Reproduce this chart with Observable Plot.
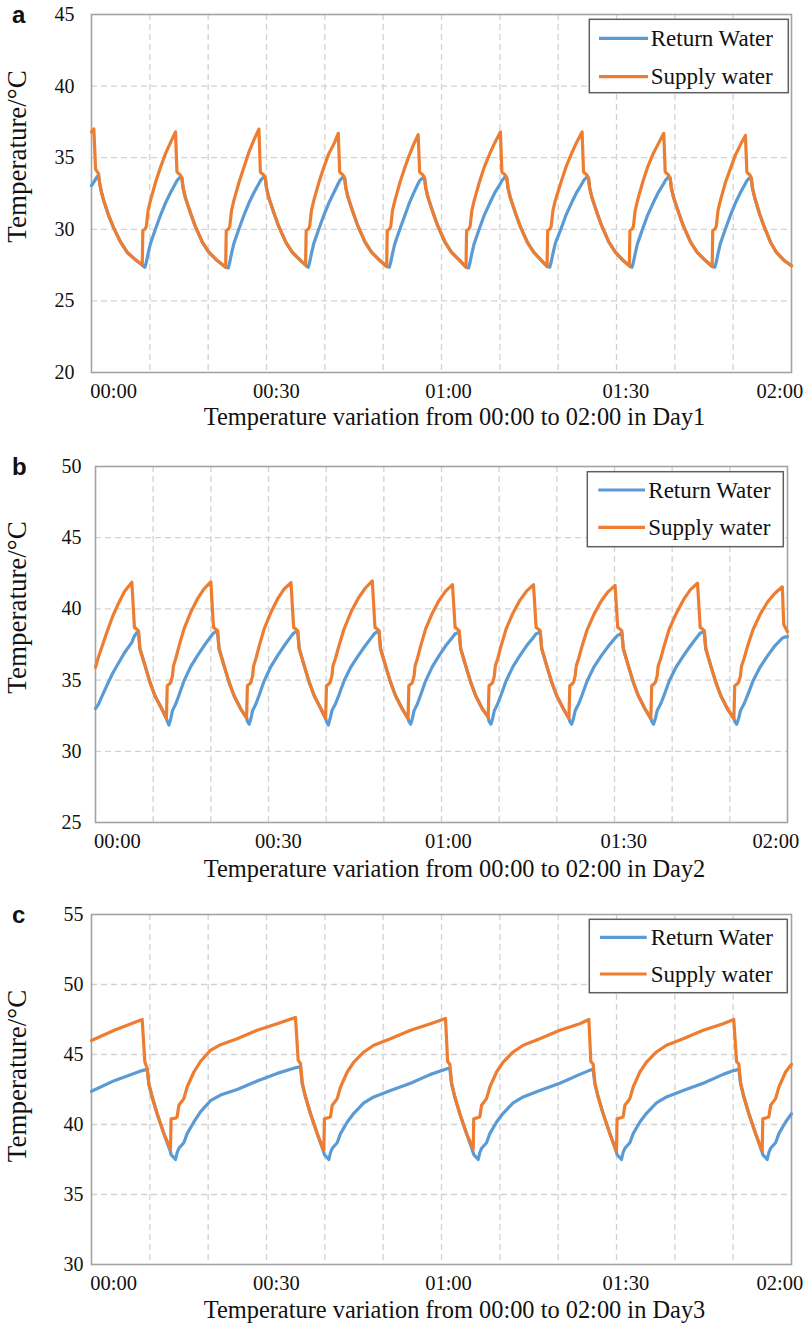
<!DOCTYPE html>
<html>
<head>
<meta charset="utf-8">
<script src="https://cdn.jsdelivr.net/npm/d3@7"></script>
<script src="https://cdn.jsdelivr.net/npm/@observablehq/plot@0.6"></script>
<style>
  body { margin: 0; background: #fff; }
  #page { position: relative; width: 809px; height: 1326px; overflow: hidden; background: #fff; }
  #page > svg { position: absolute; left: 0; }
  #page svg, #page svg g, #page svg text, #page svg tspan {
    font-family: "Liberation Serif", "Times New Roman", Times, serif !important;
    font-variant-numeric: normal !important;
  }
  #page svg text.letter { font-family: "Liberation Sans", Arial, sans-serif !important; }
</style>
</head>
<body>
<div id="page"></div>
<script>
// ---------- categories / labels ----------
const seriesNames = ["Return Water", "Supply water"];
const seriesColors = ["#5B9BD5", "#ED7D31"];
const xTickMinutes = [3.8, 31.7, 61.2, 91.6, 118];
const xTickLabels = ["00:00", "00:30", "01:00", "01:30", "02:00"];
const gridMinutes = [10, 20, 30, 40, 50, 60, 70, 80, 90, 100, 110];
const panelLetters = ["a", "b", "c"];
const xTitles = [
  "Temperature variation from 00:00 to 02:00 in Day1",
  "Temperature variation from 00:00 to 02:00 in Day2",
  "Temperature variation from 00:00 to 02:00 in Day3"
];
const yTitle = "Temperature/\u00B0C";
const yRanges = [[20, 45], [25, 50], [30, 55]];

// ---------- Day 1 (panel a) ----------
const dayOneMinutes = [
  0, 0.4, 0.7, 1.0, 1.2, 1.4, 1.7, 2.1, 3.0, 3.8, 5.0, 6.1, 7.6,
  8.7, 8.8, 9.15, 9.4, 9.7, 10.1, 11.0, 11.8, 12.7, 13.6, 14.4, 14.65, 15.2, 15.5, 15.7, 16.1, 17.0, 17.8, 19.0, 20.1, 21.6,
  23.0, 23.1, 23.45, 23.7, 24.0, 24.4, 25.3, 26.1, 27.0, 27.9, 28.7, 28.95, 29.5, 29.8, 30.0, 30.4, 31.3, 32.1, 33.3, 34.4, 35.9,
  36.7, 36.8, 37.15, 37.4, 37.7, 38.1, 39.0, 39.8, 40.7, 41.6, 42.3, 42.55, 43.1, 43.4, 43.6, 44.0, 44.9, 45.7, 46.9, 48.0, 49.5,
  50.6, 50.7, 51.05, 51.3, 51.6, 52.0, 52.9, 53.7, 54.5, 55.3, 56.0, 56.25, 56.8, 57.1, 57.3, 57.7, 58.6, 59.4, 60.6, 61.7, 63.2,
  64.2, 64.3, 64.65, 64.9, 65.2, 65.6, 66.5, 67.3, 68.3, 69.2, 70.1, 70.35, 70.9, 71.2, 71.4, 71.8, 72.7, 73.5, 74.7, 75.8, 77.2,
  78.1, 78.2, 78.55, 78.8, 79.1, 79.5, 80.5, 81.3, 82.3, 83.2, 84.1, 84.35, 84.9, 85.2, 85.4, 85.8, 86.7, 87.5, 88.7, 89.8, 91.2,
  92.2, 92.3, 92.65, 92.9, 93.2, 93.6, 94.5, 95.3, 96.3, 97.2, 98.1, 98.35, 98.9, 99.2, 99.4, 99.8, 100.7, 101.5, 102.7, 103.8, 105.3,
  106.4, 106.5, 106.85, 107.1, 107.4, 107.8, 108.7, 109.5, 110.4, 111.3, 112.1, 112.35, 112.85, 113.1, 113.3, 113.7, 114.5, 115.3, 116.4, 117.4, 118.8, 120
];
const dayOneSupply = [
  36.8, 37.0, 34.2, 34.0, 33.9, 33.2, 32.6, 32.0, 30.9, 30.1, 29.1, 28.4, 27.85,
  27.5, 29.9, 30.0, 30.2, 31.3, 32.0, 33.3, 34.3, 35.3, 36.1, 36.8, 34.0, 33.8, 33.6, 32.9, 32.2, 31.1, 30.2, 29.1, 28.4, 27.8,
  27.35, 29.9, 30.0, 30.2, 31.3, 32.0, 33.3, 34.3, 35.4, 36.3, 37.0, 34.0, 33.8, 33.6, 32.9, 32.2, 31.1, 30.2, 29.1, 28.4, 27.8,
  27.5, 29.9, 30.0, 30.2, 31.3, 32.0, 33.3, 34.3, 35.3, 36.0, 36.7, 34.0, 33.8, 33.6, 32.9, 32.2, 31.1, 30.2, 29.1, 28.4, 27.8,
  27.4, 29.9, 30.0, 30.2, 31.3, 32.0, 33.3, 34.3, 35.2, 36.0, 36.6, 34.0, 33.8, 33.6, 32.9, 32.2, 31.1, 30.2, 29.1, 28.4, 27.8,
  27.35, 29.9, 30.0, 30.2, 31.3, 32.0, 33.3, 34.3, 35.3, 36.1, 36.8, 34.0, 33.8, 33.6, 32.9, 32.2, 31.1, 30.2, 29.1, 28.4, 27.8,
  27.4, 29.9, 30.0, 30.2, 31.3, 32.0, 33.3, 34.3, 35.3, 36.1, 36.8, 34.0, 33.8, 33.6, 32.9, 32.2, 31.1, 30.2, 29.1, 28.4, 27.8,
  27.45, 29.9, 30.0, 30.2, 31.3, 32.0, 33.3, 34.3, 35.3, 36.0, 36.7, 34.0, 33.8, 33.6, 32.9, 32.2, 31.1, 30.2, 29.1, 28.4, 27.8,
  27.4, 29.9, 30.0, 30.2, 31.3, 32.0, 33.3, 34.2, 35.2, 35.95, 36.55, 34.0, 33.8, 33.6, 32.9, 32.2, 31.1, 30.2, 29.1, 28.4, 27.8, 27.45
];
const dayOneReturn = [
  33.05, 33.3, 33.5, 33.7, 33.75, 33.2, 32.6, 32.0, 30.9, 30.1, 29.1, 28.4, 27.85,
  27.5, 27.45, 27.35, 27.7, 28.3, 29.0, 30.05, 30.95, 31.85, 32.6, 33.2, 33.4, 33.65, 33.55, 32.9, 32.2, 31.1, 30.2, 29.1, 28.4, 27.8,
  27.35, 27.35, 27.3, 27.7, 28.3, 29.0, 30.05, 30.95, 31.85, 32.6, 33.2, 33.4, 33.65, 33.55, 32.9, 32.2, 31.1, 30.2, 29.1, 28.4, 27.8,
  27.5, 27.45, 27.35, 27.7, 28.3, 29.0, 30.05, 30.95, 31.85, 32.6, 33.2, 33.4, 33.65, 33.55, 32.9, 32.2, 31.1, 30.2, 29.1, 28.4, 27.8,
  27.4, 27.4, 27.35, 27.7, 28.3, 29.0, 30.05, 30.95, 31.85, 32.6, 33.2, 33.4, 33.6, 33.55, 32.9, 32.2, 31.1, 30.2, 29.1, 28.4, 27.8,
  27.35, 27.35, 27.3, 27.7, 28.3, 29.0, 30.05, 30.95, 31.85, 32.6, 33.2, 33.4, 33.65, 33.55, 32.9, 32.2, 31.1, 30.2, 29.1, 28.4, 27.8,
  27.4, 27.4, 27.35, 27.7, 28.3, 29.0, 30.05, 30.95, 31.85, 32.6, 33.2, 33.4, 33.65, 33.55, 32.9, 32.2, 31.1, 30.2, 29.1, 28.4, 27.8,
  27.45, 27.4, 27.35, 27.7, 28.3, 29.0, 30.05, 30.95, 31.85, 32.6, 33.2, 33.4, 33.65, 33.55, 32.9, 32.2, 31.1, 30.2, 29.1, 28.4, 27.8,
  27.4, 27.4, 27.35, 27.7, 28.3, 29.0, 30.05, 30.95, 31.85, 32.6, 33.2, 33.4, 33.6, 33.55, 32.9, 32.2, 31.1, 30.2, 29.1, 28.4, 27.8, 27.45
];

// ---------- Day 2 (panel b) ----------
const dayTwoMinutes = [
  0, 0.5, 1.0, 2.0, 3.0, 4.0, 5.0, 6.3, 6.75, 7.1, 7.45, 7.7, 8.6, 9.45, 10.3, 11.5,
  12.3, 12.44, 12.75, 13.05, 13.34, 13.52, 13.91, 14.49, 15.35, 16.51, 17.68, 18.82, 20.0, 20.46, 20.81, 21.16, 21.43, 22.3, 23.17, 24.03, 25.2,
  26.2, 26.34, 26.65, 26.95, 27.24, 27.42, 27.81, 28.39, 29.25, 30.41, 31.58, 32.72, 33.9, 34.36, 34.71, 35.06, 35.33, 36.2, 37.07, 37.93, 39.1,
  39.9, 40.05, 40.37, 40.69, 41.0, 41.18, 41.6, 42.21, 43.11, 44.33, 45.57, 46.77, 48.0, 48.46, 48.81, 49.16, 49.43, 50.3, 51.17, 52.03, 53.2,
  54.2, 54.34, 54.65, 54.95, 55.24, 55.42, 55.81, 56.39, 57.25, 58.41, 59.58, 60.72, 61.9, 62.36, 62.71, 63.06, 63.33, 64.2, 65.07, 65.93, 67.1,
  68.1, 68.24, 68.56, 68.87, 69.16, 69.34, 69.74, 70.33, 71.21, 72.39, 73.59, 74.75, 75.95, 76.41, 76.76, 77.11, 77.38, 78.25, 79.12, 79.98, 81.15,
  82.1, 82.25, 82.57, 82.88, 83.18, 83.37, 83.77, 84.38, 85.27, 86.48, 87.7, 88.88, 90.1, 90.56, 90.91, 91.26, 91.53, 92.4, 93.27, 94.13, 95.3,
  96.3, 96.45, 96.77, 97.09, 97.4, 97.58, 98.0, 98.61, 99.51, 100.73, 101.97, 103.17, 104.4, 104.86, 105.21, 105.56, 105.83, 106.7, 107.57, 108.43, 109.6,
  110.7, 110.85, 111.19, 111.52, 111.84, 112.03, 112.46, 113.09, 114.03, 115.3, 116.57, 117.82, 119.1, 119.35, 120
];
const dayTwoSupply = [
  35.9, 36.6, 37.2, 38.4, 39.5, 40.4, 41.2, 41.87, 38.7, 38.6, 38.45, 37.2, 36.0, 34.84, 33.9, 32.97,
  32.3, 34.6, 34.7, 34.84, 35.3, 36.0, 36.5, 37.4, 38.6, 39.76, 40.7, 41.4, 41.9, 38.7, 38.6, 38.47, 37.2, 36.0, 34.84, 33.9, 32.97,
  32.35, 34.6, 34.7, 34.84, 35.3, 36.0, 36.5, 37.4, 38.6, 39.75, 40.7, 41.4, 41.85, 38.7, 38.6, 38.47, 37.2, 36.0, 34.84, 33.9, 32.97,
  32.3, 34.6, 34.7, 34.84, 35.3, 36.0, 36.5, 37.4, 38.6, 39.8, 40.75, 41.45, 41.97, 38.7, 38.6, 38.47, 37.2, 36.0, 34.84, 33.9, 32.97,
  32.3, 34.6, 34.7, 34.84, 35.3, 36.0, 36.5, 37.4, 38.6, 39.7, 40.6, 41.25, 41.7, 38.7, 38.6, 38.47, 37.2, 36.0, 34.84, 33.9, 32.97,
  32.4, 34.6, 34.7, 34.84, 35.3, 36.0, 36.5, 37.4, 38.6, 39.7, 40.6, 41.25, 41.7, 38.7, 38.6, 38.47, 37.2, 36.0, 34.84, 33.9, 32.97,
  32.3, 34.6, 34.7, 34.84, 35.3, 36.0, 36.5, 37.4, 38.55, 39.65, 40.55, 41.2, 41.65, 38.7, 38.6, 38.47, 37.2, 36.0, 34.84, 33.9, 32.97,
  32.3, 34.6, 34.7, 34.84, 35.3, 36.0, 36.5, 37.4, 38.6, 39.7, 40.65, 41.35, 41.8, 38.7, 38.6, 38.47, 37.2, 36.0, 34.84, 33.9, 32.97,
  32.3, 34.6, 34.7, 34.84, 35.3, 36.0, 36.5, 37.4, 38.55, 39.65, 40.5, 41.1, 41.55, 38.9, 38.4
];
const dayTwoReturn = [
  33.0, 33.3, 33.75, 34.65, 35.5, 36.2, 36.9, 37.65, 38.1, 38.3, 38.4, 37.2, 36.0, 34.84, 33.9, 32.97,
  32.3, 32.1, 31.85, 32.3, 32.85, 33.0, 33.32, 33.95, 34.95, 35.95, 36.72, 37.41, 38.07, 38.3, 38.38, 38.45, 37.2, 36.0, 34.84, 33.9, 32.97,
  32.35, 32.1, 31.9, 32.3, 32.85, 33.0, 33.32, 33.95, 34.95, 35.95, 36.72, 37.41, 38.07, 38.3, 38.38, 38.45, 37.2, 36.0, 34.84, 33.9, 32.97,
  32.3, 32.1, 31.85, 32.3, 32.85, 33.0, 33.32, 33.95, 34.95, 35.95, 36.72, 37.41, 38.07, 38.3, 38.38, 38.45, 37.2, 36.0, 34.84, 33.9, 32.97,
  32.3, 32.1, 31.9, 32.3, 32.85, 33.0, 33.32, 33.95, 34.95, 35.95, 36.72, 37.41, 38.0, 38.25, 38.3, 38.4, 37.2, 36.0, 34.84, 33.9, 32.97,
  32.4, 32.1, 31.9, 32.3, 32.85, 33.0, 33.32, 33.95, 34.95, 35.95, 36.72, 37.41, 38.0, 38.25, 38.3, 38.4, 37.2, 36.0, 34.84, 33.9, 32.97,
  32.3, 32.1, 31.9, 32.3, 32.85, 33.0, 33.32, 33.95, 34.95, 35.95, 36.7, 37.35, 37.95, 38.15, 38.2, 38.35, 37.2, 36.0, 34.84, 33.9, 32.97,
  32.3, 32.1, 31.9, 32.3, 32.85, 33.0, 33.32, 33.95, 34.95, 35.95, 36.72, 37.41, 38.07, 38.3, 38.35, 38.45, 37.2, 36.0, 34.84, 33.9, 32.97,
  32.3, 32.1, 31.9, 32.3, 32.85, 33.0, 33.32, 33.95, 34.95, 35.95, 36.72, 37.41, 37.95, 38.0, 38.05
];

// ---------- Day 3 (panel c) ----------
const dayThreeMinutes = [
  0, 4.0, 8.69,
  9.15, 9.55, 9.84, 10.4, 11.25, 12.4, 13.54,
  13.64, 14.4, 14.68, 14.98, 15.83, 16.4, 17.55, 18.68, 20.39, 22.11, 24.97, 28.4, 31.83, 34.97,
  35.43, 35.83, 36.12, 36.69, 37.54, 38.69, 39.83,
  39.93, 40.69, 40.97, 41.27, 42.12, 42.69, 43.84, 44.97, 46.68, 48.4, 51.26, 54.69, 58.12, 60.69,
  61.05, 61.43, 61.72, 62.29, 63.14, 64.29, 65.43,
  65.53, 66.29, 66.57, 66.87, 67.72, 68.29, 69.44, 70.57, 72.28, 74.0, 76.86, 80.29, 83.72, 85.26,
  85.6, 86.0, 86.29, 86.86, 87.71, 88.86, 90.0,
  90.1, 90.86, 91.14, 91.44, 92.29, 92.86, 94.01, 95.14, 96.85, 98.57, 101.43, 104.86, 108.29, 110.1,
  110.58, 110.98, 111.27, 111.84, 112.69, 113.84, 114.98,
  115.08, 115.84, 116.12, 116.42, 117.27, 117.84, 118.99, 120
];
const dayThreeSupply = [
  46.0, 46.75, 47.5,
  44.46, 44.0, 42.9, 41.96, 40.77, 39.35, 38.25,
  40.4, 40.45, 40.55, 41.37, 41.85, 42.68, 43.75, 44.5, 45.3, 45.7, 46.13, 46.73, 47.2, 47.65,
  44.6, 44.35, 43.0, 41.96, 40.77, 39.35, 38.15,
  40.4, 40.5, 40.55, 41.37, 41.85, 42.68, 43.75, 44.46, 45.18, 45.66, 46.13, 46.73, 47.2, 47.57,
  44.5, 44.3, 43.0, 41.96, 40.77, 39.35, 38.25,
  40.4, 40.5, 40.55, 41.37, 41.85, 42.68, 43.75, 44.46, 45.18, 45.66, 46.13, 46.73, 47.2, 47.5,
  44.5, 44.3, 43.0, 41.96, 40.77, 39.35, 38.1,
  40.4, 40.5, 40.55, 41.37, 41.85, 42.68, 43.75, 44.46, 45.18, 45.66, 46.13, 46.73, 47.2, 47.5,
  44.5, 44.3, 43.0, 41.96, 40.77, 39.35, 38.1,
  40.4, 40.5, 40.55, 41.37, 41.85, 42.68, 43.75, 44.3
];
const dayThreeReturn = [
  42.37, 43.15, 43.85,
  43.9, 43.95, 42.85, 41.96, 40.77, 39.35, 38.05,
  37.85, 37.5, 38.0, 38.3, 38.7, 39.35, 40.18, 40.9, 41.7, 42.1, 42.5, 43.1, 43.65, 44.05,
  44.1, 44.1, 42.9, 41.96, 40.77, 39.35, 38.0,
  37.85, 37.5, 38.0, 38.3, 38.7, 39.35, 40.18, 40.8, 41.55, 41.97, 42.42, 42.95, 43.58, 43.95,
  44.0, 44.0, 42.9, 41.96, 40.77, 39.35, 38.0,
  37.85, 37.5, 38.0, 38.3, 38.7, 39.35, 40.18, 40.8, 41.55, 41.97, 42.42, 42.95, 43.58, 43.85,
  43.9, 43.95, 42.9, 41.96, 40.77, 39.35, 38.0,
  37.85, 37.5, 38.0, 38.3, 38.7, 39.35, 40.18, 40.8, 41.55, 41.97, 42.42, 42.95, 43.58, 43.85,
  43.9, 43.95, 42.9, 41.96, 40.77, 39.35, 38.0,
  37.85, 37.5, 38.0, 38.3, 38.7, 39.35, 40.18, 40.77
];

// ---------- layout (not data) ----------
const layouts = [
  { top: 0,   height: 450, mt: 14, mb: 78, ml: 91, mr: 18, pad: 17,
    letterY: 23, yTitleY: 156.5, xTitleY: 425,
    legend: { x0: 589.3, y0: 19.3, x1: 788.3, y1: 92.7, lx0: 599, lx1: 648, ly: [38.3, 76.7], tx: 650.7 } },
  { top: 450, height: 450, mt: 16, mb: 78, ml: 95, mr: 22, pad: 14,
    letterY: 475, yTitleY: 607.5, xTitleY: 877,
    legend: { x0: 587.3, y0: 471.7, x1: 783.3, y1: 546.7, lx0: 598.3, lx1: 645, ly: [490, 527.3], tx: 648.3 } },
  { top: 900, height: 426, mt: 14, mb: 62, ml: 91, mr: 18, pad: 8,
    letterY: 923, yTitleY: 1076, xTitleY: 1318,
    legend: { x0: 589.3, y0: 919.3, x1: 787.3, y1: 992.7, lx0: 600, lx1: 646.7, ly: [937.3, 974], tx: 650.7 } }
];

const panelData = [
  [dayOneMinutes, dayOneReturn, dayOneSupply],
  [dayTwoMinutes, dayTwoReturn, dayTwoSupply],
  [dayThreeMinutes, dayThreeReturn, dayThreeSupply]
];

const page = document.getElementById("page");
const serif = "Liberation Serif";
const labelOf = new Map(xTickMinutes.map((m, i) => [m, xTickLabels[i]]));

panelData.forEach(([minutes, ret, sup], p) => {
  const L = layouts[p];
  const [yMin, yMax] = yRanges[p];
  const yTicks = d3.range(yMin, yMax + 0.001, 5);
  const rows = [];
  minutes.forEach((t, i) => rows.push({ t, temp: ret[i], series: seriesNames[0] }));
  minutes.forEach((t, i) => rows.push({ t, temp: sup[i], series: seriesNames[1] }));

  const svg = Plot.plot({
    width: 809,
    height: L.height,
    marginTop: L.mt, marginBottom: L.mb, marginLeft: L.ml, marginRight: L.mr,
    style: { fontFamily: serif, fontSize: "20px", color: "#111", background: "#fff", overflow: "visible" },
    x: { domain: [0, 120] },
    y: { domain: [yMin, yMax] },
    color: { domain: seriesNames, range: seriesColors },
    marks: [
      Plot.gridX(gridMinutes, { stroke: "#d2d2d2", strokeOpacity: 1, strokeWidth: 1.3, strokeDasharray: "6,4" }),
      Plot.gridY(yTicks.slice(1, -1), { stroke: "#d2d2d2", strokeOpacity: 1, strokeWidth: 1.3, strokeDasharray: "6,4" }),
      Plot.frame({ stroke: "#a3a3a3", strokeWidth: 1.6 }),
      Plot.axisX(xTickMinutes, { tickSize: 0, tickPadding: 11, tickFormat: d => labelOf.get(d), label: null, fontSize: 20.5, fontFamily: serif, fontVariant: "normal" }),
      Plot.axisY(yTicks, { tickSize: 0, tickPadding: L.pad, label: null, fontSize: 20, fontFamily: serif, fontVariant: "normal" }),
      Plot.line(rows, { x: "t", y: "temp", z: "series", stroke: "series", strokeWidth: 3.2, strokeLinejoin: "round", strokeLinecap: "round" })
    ]
  });
  svg.style.top = L.top + "px";
  page.appendChild(svg);
});

// ---------- overlay: titles, panel letters, legends ----------
const ov = d3.select(page).append("svg")
  .attr("width", 809).attr("height", 1326)
  .style("position", "absolute").style("left", "0px").style("top", "0px");

layouts.forEach((L, p) => {
  ov.append("text")
    .attr("class", "letter")
    .attr("x", 12).attr("y", L.letterY)
    .attr("font-family", "Liberation Sans")
    .attr("font-weight", "bold").attr("font-size", 24).attr("fill", "#111")
    .text(panelLetters[p]);

  ov.append("text")
    .attr("transform", `translate(26,${L.yTitleY}) rotate(-90)`)
    .attr("text-anchor", "middle")
    .attr("font-family", serif)
    .attr("font-size", 27).attr("fill", "#111")
    .text(yTitle);

  ov.append("text")
    .attr("x", 454.5).attr("y", L.xTitleY)
    .attr("text-anchor", "middle")
    .attr("font-family", serif)
    .attr("font-size", 24.4).attr("fill", "#111")
    .text(xTitles[p]);

  const g = L.legend;
  ov.append("rect")
    .attr("x", g.x0).attr("y", g.y0).attr("width", g.x1 - g.x0).attr("height", g.y1 - g.y0)
    .attr("fill", "#fff").attr("stroke", "#5f5f5f").attr("stroke-width", 1.5);
  seriesNames.forEach((name, i) => {
    ov.append("line")
      .attr("x1", g.lx0).attr("x2", g.lx1).attr("y1", g.ly[i]).attr("y2", g.ly[i])
      .attr("stroke", seriesColors[i]).attr("stroke-width", 3.2);
    ov.append("text")
      .attr("x", g.tx).attr("y", g.ly[i] + 7.5)
      .attr("font-family", serif)
      .attr("font-size", 23).attr("fill", "#111")
      .text(name);
  });
});
</script>
</body>
</html>
